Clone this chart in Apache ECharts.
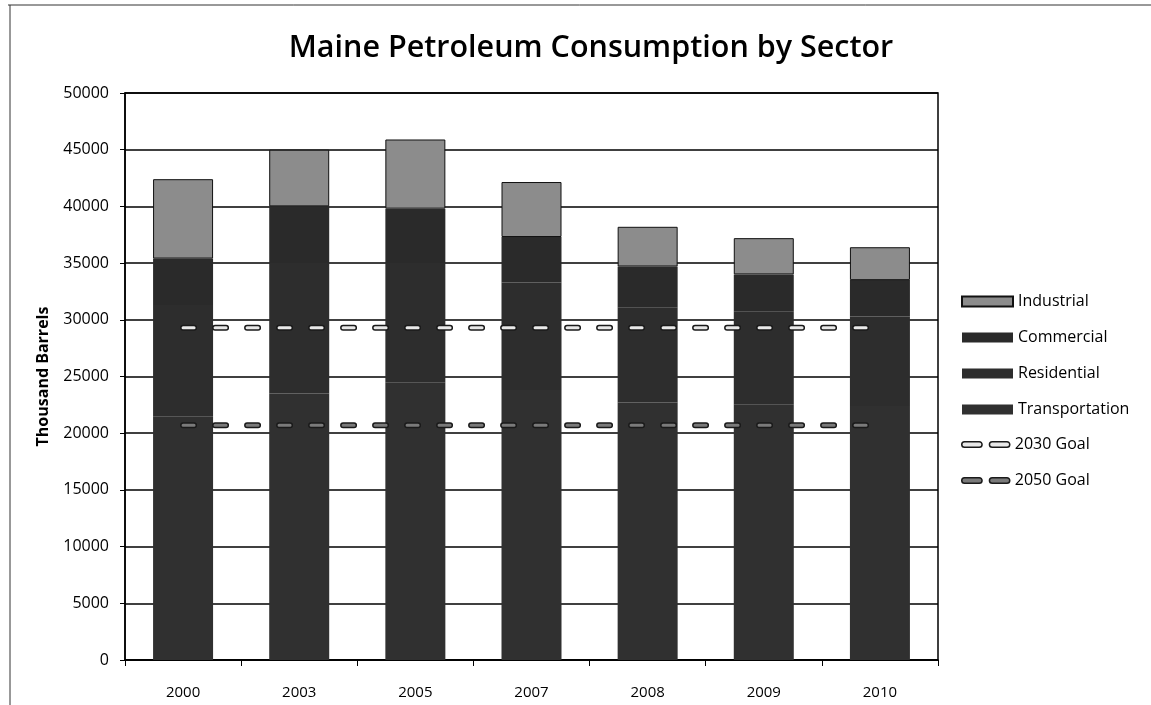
<!DOCTYPE html>
<html>
<head>
<meta charset="utf-8">
<script src="https://cdn.jsdelivr.net/npm/echarts@6/dist/echarts.min.js"></script>
<style>
  html, body { margin: 0; padding: 0; background: #fff; }
  #main { width: 1151px; height: 705px; }
</style>
</head>
<body>
<div id="main"></div>
<script>
// data (thousand barrels)
const years = ['2000', '2003', '2005', '2007', '2008', '2009', '2010']
const transportation = [21500, 23500, 24500, 23800, 22700, 22500, 22400]
const residential = [9800, 11500, 10500, 9500, 8400, 8200, 7900]
const commercial = [4100, 5000, 4800, 4000, 3600, 3300, 3200]
const industrial = [7000, 5000, 6100, 4850, 3500, 3200, 2900]
const goal2030 = [29300, 29300, 29300, 29300, 29300, 29300, 29300]
const goal2050 = [20700, 20700, 20700, 20700, 20700, 20700, 20700]

const font = 'Open Sans'
const dash = [11, 21]
const dashIcon = 'path://M2,0h16a2,2 0 0 1 0,6h-16a2,2 0 0 1 0,-6z M32,0h16a2,2 0 0 1 0,6h-16a2,2 0 0 1 0,-6z'

function barSeries (name, data, color, border) {
  return {
    name: name,
    type: 'bar',
    stack: 'total',
    barWidth: 60,
    data: data,
    itemStyle: { color: color, borderColor: '#111', borderWidth: border }
  }
}

// dashes drawn twice: dark outline underneath, lighter fill on top
function goalSeries (name, data, fill, withLegend) {
  return {
    name: withLegend ? name : name + ' outline',
    type: 'line',
    data: data,
    symbol: 'none',
    silent: true,
    z: withLegend ? 4 : 3,
    itemStyle: { color: fill },
    lineStyle: withLegend
      ? { color: fill, width: 3, type: dash, cap: 'round' }
      : { color: '#1a1a1a', width: 6, type: dash, cap: 'round' }
  }
}

const chart = echarts.init(document.getElementById('main'))
chart.setOption({
  animation: false,
  backgroundColor: '#fff',
  title: {
    text: 'Maine Petroleum Consumption by Sector',
    left: 586,
    top: 28,
    textAlign: 'center',
    textStyle: { fontFamily: font, fontSize: 30.5, fontWeight: 600, color: '#000' }
  },
  graphic: [
    { type: 'line', shape: { x1: 8, y1: 5, x2: 1151, y2: 5 }, style: { stroke: '#333', lineWidth: 1 } },
    { type: 'line', shape: { x1: 10, y1: 5, x2: 10, y2: 705 }, style: { stroke: '#333', lineWidth: 1 } }
  ],
  legend: [
    {
      orient: 'vertical',
      left: 956,
      top: 288,
      itemWidth: 51,
      itemHeight: 10,
      itemGap: 19,
      data: [
        { name: 'Industrial', icon: 'rect' },
        { name: 'Commercial', icon: 'rect' },
        { name: 'Residential', icon: 'rect' },
        { name: 'Transportation', icon: 'rect' }
      ],
      textStyle: { fontFamily: font, fontSize: 16, color: '#000', lineHeight: 17 }
    },
    {
      orient: 'vertical',
      left: 956,
      top: 431,
      itemWidth: 48,
      itemHeight: 6,
      itemGap: 19,
      data: [
        { name: '2030 Goal', icon: dashIcon, itemStyle: { color: '#e8e8e8', borderColor: '#1a1a1a', borderWidth: 1.5 } },
        { name: '2050 Goal', icon: dashIcon, itemStyle: { color: '#7a7a7a', borderColor: '#1a1a1a', borderWidth: 1.5 } }
      ],
      textStyle: { fontFamily: font, fontSize: 16, color: '#000', lineHeight: 17 }
    }
  ],
  grid: {
    left: 125,
    right: 213,
    top: 93,
    bottom: 45,
    show: true,
    borderColor: '#000',
    borderWidth: 1.5
  },
  xAxis: {
    type: 'category',
    data: years,
    axisLine: { lineStyle: { color: '#000', width: 1.5 } },
    axisTick: { show: true, length: 6, lineStyle: { color: '#000' } },
    axisLabel: { fontFamily: font, fontSize: 15, color: '#000', margin: 25 }
  },
  yAxis: {
    type: 'value',
    min: 0,
    max: 50000,
    interval: 5000,
    name: 'Thousand Barrels',
    nameLocation: 'middle',
    nameGap: 74,
    nameTextStyle: { fontFamily: font, fontSize: 16, fontWeight: 'bold', color: '#000' },
    axisLine: { show: true, lineStyle: { color: '#000', width: 1.5 } },
    axisTick: { show: true, length: 5, lineStyle: { color: '#000' } },
    axisLabel: { fontFamily: font, fontSize: 16, color: '#000', margin: 16, formatter: v => String(v) },
    splitLine: { lineStyle: { color: '#000', width: 1.5 } }
  },
  series: [
    barSeries('Transportation', transportation, '#303030', 0),
    barSeries('Residential', residential, '#2d2d2d', 0),
    barSeries('Commercial', commercial, '#2a2a2a', 0),
    barSeries('Industrial', industrial, '#8c8c8c', 1),
    goalSeries('2030 Goal', goal2030, '#1a1a1a', false),
    goalSeries('2030 Goal', goal2030, '#e8e8e8', true),
    goalSeries('2050 Goal', goal2050, '#1a1a1a', false),
    goalSeries('2050 Goal', goal2050, '#7a7a7a', true)
  ]
})
</script>
</body>
</html>
